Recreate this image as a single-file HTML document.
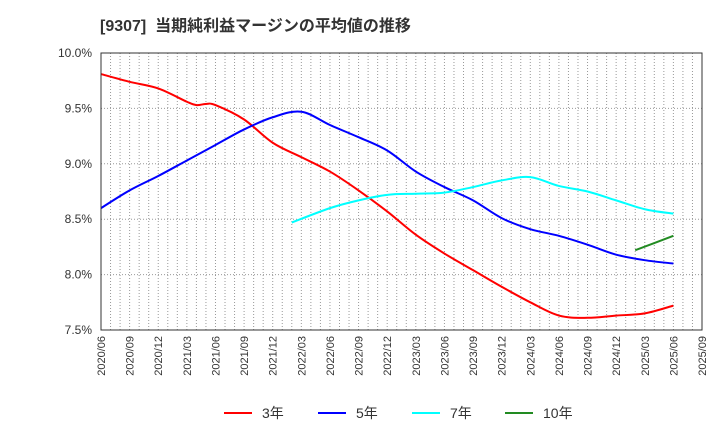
<!DOCTYPE html>
<html><head><meta charset="utf-8"><style>
body{margin:0;background:#fff;}
svg{font-family:"Liberation Sans","Noto Sans CJK JP",sans-serif;}
</style></head><body>
<svg id="c" width="720" height="440">
<text x="100" y="31" font-size="16" font-weight="bold" fill="#333" xml:space="preserve">[9307]  当期純利益マージンの平均値の推移</text>
<g id="grid"></g>
<g id="series"></g>
<rect x="101" y="53" width="601" height="277" fill="none" stroke="#333" stroke-width="1"/>
<g id="axes"></g>
<g id="legend"></g>
</svg>
<script>
const xTickLabels=["2020/06","2020/09","2020/12","2021/03","2021/06","2021/09","2021/12","2022/03","2022/06","2022/09","2022/12","2023/03","2023/06","2023/09","2023/12","2024/03","2024/06","2024/09","2024/12","2025/03","2025/06","2025/09"];
const yTicks=[7.5,8.0,8.5,9.0,9.5,10.0];
const months3=[0,3,6,9,10,11,12,15,18,21,24,27,30,33,36,39,42,45,48,51,54,57,60];
const s3=[9.81,9.74,9.68,9.56,9.53,9.54,9.53,9.40,9.19,9.06,8.93,8.76,8.57,8.36,8.19,8.04,7.89,7.75,7.63,7.61,7.63,7.65,7.72];
const monthsQ=[0,3,6,9,12,15,18,21,24,27,30,33,36,39,42,45,48,51,54,57,60];
const s5=[8.60,8.76,8.89,9.03,9.17,9.31,9.42,9.47,9.35,9.24,9.12,8.93,8.79,8.67,8.51,8.41,8.35,8.27,8.18,8.13,8.10];
const months7=[20,24,27,30,33,36,39,42,45,48,51,54,57,60];
const s7=[8.47,8.60,8.67,8.72,8.73,8.74,8.79,8.85,8.88,8.80,8.75,8.67,8.59,8.55];
const months10=[56,60];
const s10=[8.22,8.35];
const L=101,R=702,T=53,B=330,totalMonths=63;
const xs=m=>L+(R-L)*m/totalMonths;
const ys=v=>B-(B-T)*(v-7.5)/2.5;
const NS="http://www.w3.org/2000/svg";
function mk(t,a,p){const e=document.createElementNS(NS,t);for(const k in a)e.setAttribute(k,a[k]);p.appendChild(e);return e;}
const grid=document.getElementById('grid'),axes=document.getElementById('axes');
for(let m=1;m<totalMonths;m++){const g=mk('line',{x1:xs(m),x2:xs(m),y1:T,y2:B,stroke:'#999','stroke-dasharray':'1,2','stroke-width':1},grid);

}
yTicks.forEach(v=>{const g=mk('line',{x1:L,x2:R,y1:ys(v),y2:ys(v),stroke:'#999','stroke-dasharray':'1,2'},grid);


const t=mk('text',{x:92,y:ys(v)+4,'text-anchor':'end','font-size':12,fill:'#333'},axes);t.textContent=v.toFixed(1)+'%';

});
xTickLabels.forEach((s,i)=>{const x=xs(i*3);const t=mk('text',{x:0,y:0,transform:`translate(${x+4},336) rotate(-90)`,'text-anchor':'end','font-size':11,fill:'#333'},axes);t.textContent=s;

});
function path(ms,vs){const p=ms.map((m,i)=>[xs(m),ys(vs[i])]);let d=`M${p[0][0]},${p[0][1]}`;
for(let i=0;i<p.length-1;i++){const p0=p[i-1]||p[i],p1=p[i],p2=p[i+1],p3=p[i+2]||p2;
d+=`C${p1[0]+(p2[0]-p0[0])/6},${p1[1]+(p2[1]-p0[1])/6} ${p2[0]-(p3[0]-p1[0])/6},${p2[1]-(p3[1]-p1[1])/6} ${p2[0]},${p2[1]}`;}return d;}
const ser=document.getElementById('series');
[[months3,s3,'#f00','line-3yr'],[monthsQ,s5,'#00f','line-5yr'],[months7,s7,'#0ff','line-7yr'],[months10,s10,'#228b22','line-10yr']].forEach(([m,v,c,n])=>{
const e=mk('path',{d:path(m,v),fill:'none',stroke:c,'stroke-width':2},ser);

});
const lg=document.getElementById('legend');
[[224,'#f00','3年'],[318,'#00f','5年'],[412,'#0ff','7年'],[505,'#228b22','10年']].forEach(([x,c,s])=>{
const l=mk('line',{x1:x,x2:x+28,y1:413,y2:413,stroke:c,'stroke-width':2},lg);


const t=mk('text',{x:x+38,y:418,'font-size':14,fill:'#333'},lg);t.textContent=s;

});
</script>
</body></html>
